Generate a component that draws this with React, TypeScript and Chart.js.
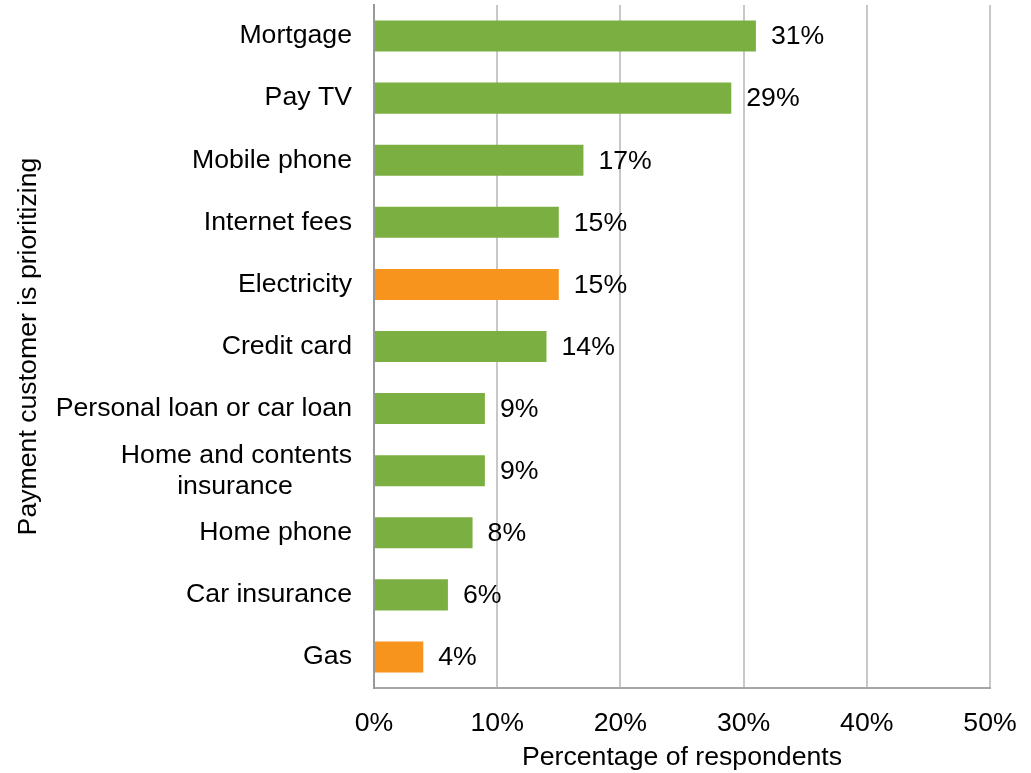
import React, { useEffect, useRef } from "react";
import { Chart, registerables } from "chart.js";

Chart.register(...registerables);

const NBSP = "\u00a0";

const categories: (string | string[])[] = [
  "Mortgage",
  "Pay TV",
  "Mobile phone",
  "Internet fees",
  "Electricity",
  "Credit card",
  "Personal loan or car loan",
  ["Home and contents", "insurance" + NBSP.repeat(8)],
  "Home phone",
  "Car insurance",
  "Gas",
];

const values: number[] = [31, 29, 17, 15, 15, 14, 9, 9, 8, 6, 4];

const highlighted: number[] = [4, 10]; // Electricity, Gas

const xTicks: number[] = [0, 10, 20, 30, 40, 50];

const FONT = "'Liberation Sans', Arial, Helvetica, sans-serif";
const FS = 26.67;
const GREEN = "#7CAF42";
const ORANGE = "#F7941E";

const dataLabelPlugin = {
  id: "dataLabels",
  afterDatasetsDraw(chart: any) {
    const ctx = chart.ctx;
    const meta = chart.getDatasetMeta(0);
    ctx.save();
    ctx.font = `${FS}px ${FONT}`;
    ctx.fillStyle = "#000";
    ctx.textAlign = "left";
    ctx.textBaseline = "middle";
    meta.data.forEach((bar: any, i: number) => {
      ctx.fillText(`${values[i]}%`, bar.x + 15, bar.y + 1);
    });
    ctx.restore();
  },
};

export default function App() {
  const canvasRef = useRef<HTMLCanvasElement | null>(null);

  useEffect(() => {
    if (!canvasRef.current) return;
    const chart = new Chart(canvasRef.current, {
      type: "bar",
      data: {
        labels: categories,
        datasets: [
          {
            data: values,
            backgroundColor: values.map((_, i) => (highlighted.includes(i) ? ORANGE : GREEN)),
            barPercentage: 0.5,
            categoryPercentage: 1,
          },
        ],
      },
      options: {
        indexAxis: "y",
        animation: false,
        responsive: true,
        maintainAspectRatio: false,
        layout: { padding: { top: 5, right: 41, bottom: 3, left: 0 } },
        plugins: {
          legend: { display: false },
          tooltip: { enabled: false },
        },
        scales: {
          x: {
            min: 0,
            max: 50,
            afterBuildTicks: (scale: any) => {
              scale.ticks = xTicks.map((v) => ({ value: v }));
            },
            afterFit: (scale: any) => {
              scale.height = 82;
              scale.paddingLeft = 0;
              scale.paddingRight = 0;
            },
            ticks: {
              color: "#000",
              font: { family: FONT, size: FS },
              padding: 20,
              callback: (v: any) => `${v}%`,
              maxRotation: 0,
            },
            grid: {
              color: "#C8C8C8",
              lineWidth: 2,
              drawTicks: false,
            },
            border: { color: "#A6A6A6", width: 2 },
            title: {
              display: true,
              text: "Percentage of respondents",
              color: "#000",
              font: { family: FONT, size: FS },
              padding: { top: 0, bottom: -3.5 },
            },
          },
          y: {
            afterFit: (scale: any) => {
              scale.width = 374;
              scale.paddingTop = 0;
              scale.paddingBottom = 0;
            },
            ticks: {
              color: "#000",
              font: { family: FONT, size: FS, lineHeight: 1.16 },
              padding: 22,
              autoSkip: false,
            },
            grid: { display: false, drawTicks: false },
            border: { color: "#999999", width: 2 },
            title: {
              display: true,
              text: "Payment customer is prioritizing",
              color: "#000",
              font: { family: FONT, size: FS },
              padding: { top: 13, bottom: 0 },
            },
          },
        },
      },
      plugins: [dataLabelPlugin],
    });
    return () => chart.destroy();
  }, []);

  return (
    <div style={{ position: "fixed", left: 0, top: 0, width: 1031, height: 773, background: "#fff" }}>
      <canvas ref={canvasRef} />
    </div>
  );
}
